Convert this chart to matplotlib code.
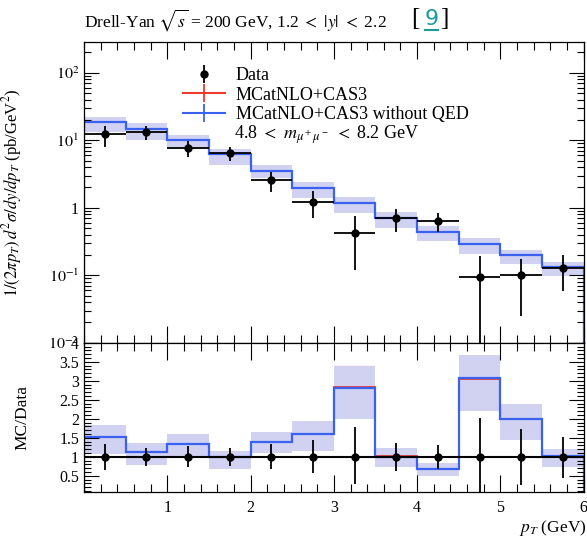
import matplotlib
matplotlib.use("Agg")
import matplotlib.pyplot as plt
from matplotlib.lines import Line2D
from matplotlib.ticker import FixedLocator, MultipleLocator, LogLocator, FuncFormatter, NullFormatter
import numpy as np

# pT bins (GeV)
bin_edges = [0.0, 0.5, 1.0, 1.5, 2.0, 2.5, 3.0, 3.5, 4.0, 4.5, 5.0, 5.5, 6.0]
bin_centers = [0.25, 0.75, 1.25, 1.75, 2.25, 2.75, 3.25, 3.75, 4.25, 4.75, 5.25, 5.75]

# data, pb/GeV^2
data_vals = [12.2, 13.1, 7.6, 6.4, 2.55, 1.23, 0.42, 0.70, 0.64, 0.095, 0.10, 0.13]
data_err_up = [4.0, 2.9, 2.1, 1.5, 0.87, 0.55, 0.33, 0.25, 0.19, 0.096, 0.073, 0.069]
data_err_down = [4.3, 3.1, 2.0, 1.5, 0.82, 0.53, 0.30, 0.26, 0.20, 0.0949, 0.075, 0.072]

# MCatNLO+CAS3
mc_vals = [18.5, 14.8, 10.1, 6.27, 3.52, 1.98, 1.19, 0.712, 0.435, 0.29, 0.198, 0.134]
mc_lo = [13.1, 10.2, 7.3, 4.35, 2.78, 1.42, 0.85, 0.51, 0.32, 0.21, 0.146, 0.097]
mc_hi = [22.4, 17.7, 12.1, 7.36, 4.23, 2.39, 1.43, 0.86, 0.54, 0.35, 0.239, 0.157]

# MCatNLO+CAS3 without QED
noqed_vals = [18.5, 14.8, 10.1, 6.27, 3.52, 1.97, 1.18, 0.70, 0.435, 0.292, 0.20, 0.133]
noqed_lo = [13.1, 10.2, 7.3, 4.35, 2.78, 1.41, 0.84, 0.504, 0.32, 0.209, 0.145, 0.096]
noqed_hi = [22.4, 17.7, 12.1, 7.36, 4.23, 2.37, 1.42, 0.854, 0.538, 0.35, 0.238, 0.156]

RED = "#ee3a2a"
BLUE = "#3a62f0"
BAND = "#c9ccf2"

plt.rcParams["font.family"] = "serif"
plt.rcParams["font.serif"] = ["Liberation Serif", "DejaVu Serif"]
plt.rcParams["mathtext.fontset"] = "stix"

fig = plt.figure(figsize=(5.87, 5.37), dpi=100)
ax = fig.add_axes([0.1431, 0.3618, 0.8513, 0.5605])
axr = fig.add_axes([0.1431, 0.0844, 0.8513, 0.2774], sharex=ax)

edges = np.array(bin_edges)
data = np.array(data_vals)

# main panel
ax.stairs(mc_hi, edges, baseline=mc_lo, fill=True, color=RED, alpha=0.06, lw=0)
ax.stairs(noqed_hi, edges, baseline=noqed_lo, fill=True, color=BAND, alpha=0.85, lw=0)
ax.stairs(mc_vals, edges, color=RED, lw=1.3)
ax.stairs(noqed_vals, edges, color=BLUE, lw=1.6)
ax.errorbar(bin_centers, data_vals, xerr=0.25, yerr=[data_err_down, data_err_up],
            fmt="o", color="black", ms=5, lw=1.3, capsize=0, zorder=5)

ax.set_yscale("log")
ax.set_ylim(1e-2, 288)
ax.set_xlim(0, 6)

def log_label(v, pos):
    e = int(round(np.log10(v)))
    return "1" if e == 0 else r"$10^{%d}$" % e

ax.yaxis.set_major_locator(LogLocator(base=10, numticks=10))
ax.yaxis.set_minor_locator(LogLocator(base=10, subs=np.arange(2, 10), numticks=20))
ax.yaxis.set_major_formatter(FuncFormatter(log_label))
ax.yaxis.set_minor_formatter(NullFormatter())
ax.set_ylabel(r"$1/(2\pi p_T)\,d^2\sigma/dy/dp_T$ (pb/GeV$^2$)", fontsize=12)
ax.yaxis.set_label_coords(-0.12, 0.5)
plt.setp(ax.get_xticklabels(), visible=False)

# legend
h_data = ax.errorbar([-1], [1], yerr=[[0.5], [0.5]], fmt="o", color="black", ms=5, lw=1.3, capsize=0)
h_mc = Line2D([], [], color=RED, lw=1.5, marker="|", ms=13, mew=1.3)
h_noqed = Line2D([], [], color=BLUE, lw=1.5, marker="|", ms=13, mew=1.3)
ax.legend([h_data, h_mc, h_noqed], ["Data", "MCatNLO+CAS3", "MCatNLO+CAS3 without QED"],
          loc="upper left", bbox_to_anchor=(0.184, 0.94), frameon=False, fontsize=13,
          handlelength=2.3, handletextpad=0.6, labelspacing=0.15, borderaxespad=0)
ax.text(0.30, 0.69, r"4.8 $<$ $m_{\mu^+\mu^-}$ $<$ 8.2 GeV", transform=ax.transAxes,
        fontsize=13, va="center", ha="left")

# ratio panel
ratio_noqed = np.array(noqed_vals) / data
ratio_mc = np.array(mc_vals) / data
axr.stairs(np.array(mc_hi) / data, edges, baseline=np.array(mc_lo) / data, fill=True,
           color=RED, alpha=0.06, lw=0)
axr.stairs(np.array(noqed_hi) / data, edges, baseline=np.array(noqed_lo) / data, fill=True,
           color=BAND, alpha=0.85, lw=0)
axr.stairs(ratio_mc, edges, color=RED, lw=1.3)
axr.stairs(ratio_noqed, edges, color=BLUE, lw=1.6)
axr.axhline(1.0, color="black", lw=1.5, zorder=4)
axr.errorbar(bin_centers, np.ones(len(bin_centers)),
             yerr=[np.array(data_err_down) / data, np.array(data_err_up) / data],
             fmt="o", color="black", ms=5, lw=1.3, capsize=0, zorder=5)
axr.set_ylim(0.08, 4.0)
axr.yaxis.set_major_locator(MultipleLocator(0.5))
axr.yaxis.set_minor_locator(MultipleLocator(0.1))
axr.yaxis.set_major_formatter(FuncFormatter(lambda v, p: "%g" % v))
axr.set_ylabel("MC/Data", fontsize=12.5)
axr.yaxis.set_label_coords(-0.108, 0.5)

axr.xaxis.set_major_locator(FixedLocator([1, 2, 3, 4, 5, 6]))
axr.xaxis.set_minor_locator(MultipleLocator(0.2))
axr.set_xlabel(r"$p_T$ (GeV)", fontsize=12.5, loc="right")
axr.xaxis.set_label_coords(1.005, -0.175)

for a in (ax, axr):
    a.tick_params(which="both", direction="in", top=True, right=True, labelsize=11.5, width=0.8)
    a.tick_params(axis="y", which="major", length=11)
    a.tick_params(axis="y", which="minor", length=5)
    a.tick_params(axis="x", which="major", length=12, pad=6)
    a.tick_params(axis="x", which="minor", length=6)
    for s in a.spines.values():
        s.set_linewidth(0.9)

# title
fig.text(0.143, 1 - 20 / 537, r"Drell-Yan $\sqrt{s}$ = 200 GeV, 1.2 $<$ $|y|$ $<$ 2.2",
         fontsize=12.5, va="center", ha="left")
fig.text(411 / 587, 1 - 19 / 537, "[", fontsize=18, va="center", ha="left")
fig.text(425 / 587, 1 - 19 / 537, "9", fontsize=16, va="center", ha="left",
         color="#1b9aa2", family="DejaVu Sans")
fig.text(440 / 587, 1 - 19 / 537, "]", fontsize=18, va="center", ha="left")
fig.add_artist(Line2D([425 / 587, 438 / 587], [1 - 30 / 537, 1 - 30 / 537],
                      color="#1b9aa2", lw=1.5, transform=fig.transFigure))

fig.savefig("out.png", dpi=100)
